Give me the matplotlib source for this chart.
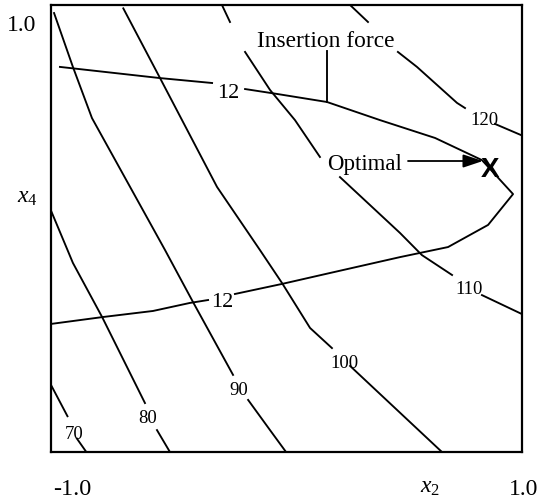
import numpy as np
import matplotlib
matplotlib.use("Agg")
import matplotlib.pyplot as plt

nan = np.nan

# insertion force contours (x2, x4), nan = gap left for a label
force_levels = [70, 80, 90, 100, 110, 120]
f70_x2 = [-1.00, -0.93, nan, -0.89, -0.85]
f70_x4 = [-0.70, -0.84, nan, -0.94, -1.00]
f80_x2 = [-1.00, -0.93, -0.907, -0.783, -0.601, nan, -0.550, -0.495]
f80_x4 = [0.08, -0.096, -0.154, -0.396, -0.781, nan, -0.902, -1.00]
f90_x2 = [-0.987, -0.907, -0.826, -0.516, -0.397, -0.227, nan, -0.163, -0.070, -0.002]
f90_x4 = [0.964, 0.723, 0.494, -0.096, -0.329, -0.655, nan, -0.767, -0.902, -1.00]
f100_x2 = [-0.693, -0.537, -0.295, -0.113, -0.019, 0.100, 0.193, nan, 0.270, 0.660]
f100_x4 = [0.985, 0.673, 0.186, -0.096, -0.244, -0.445, -0.535, nan, -0.615, -1.00]
f110_x2 = [-0.274, -0.240, nan, -0.176, -0.070, 0.036, 0.142, nan,
           0.227, 0.482, 0.575, 0.703, nan, 0.830, 1.00]
f110_x4 = [1.00, 0.924, nan, 0.790, 0.620, 0.485, 0.320, nan,
           0.230, -0.020, -0.119, -0.208, nan, -0.298, -0.383]
f120_x2 = [0.270, 0.346, nan, 0.473, 0.554, 0.724, 0.758, nan, 0.885, 0.996]
f120_x4 = [1.00, 0.924, nan, 0.790, 0.723, 0.562, 0.539, nan, 0.468, 0.418]

# label positions for the force levels
force_lab_x2 = [-0.902, -0.588, -0.202, 0.248, 0.775, 0.839]
force_lab_x4 = [-0.911, -0.843, -0.718, -0.597, -0.266, 0.494]

# the "12" contour
c12_x2 = [-0.962, -0.537, -0.316, nan, -0.176, -0.040, 0.172, 0.397, 0.631, 0.830,
          0.962, 0.856, 0.686, 0.482, 0.185, -0.019, -0.219, nan,
          -0.333, -0.410, -0.567, -0.779, -1.00]
c12_x4 = [0.723, 0.673, 0.651, nan, 0.624, 0.602, 0.566, 0.485, 0.405, 0.306,
          0.154, 0.016, -0.083, -0.128, -0.199, -0.248, -0.293, nan,
          -0.320, -0.333, -0.369, -0.396, -0.427]
c12_lab_x2 = [-0.248, -0.274]
c12_lab_x4 = [0.617, -0.320]

optimum = (0.864, 0.232)

plt.rcParams['font.family'] = ['Liberation Serif', 'DejaVu Serif']
plt.rcParams['mathtext.fontset'] = 'custom'
plt.rcParams['mathtext.rm'] = 'Liberation Serif'
plt.rcParams['mathtext.it'] = 'Liberation Serif:italic'

fig = plt.figure(figsize=(5.41, 5.01), dpi=100)
ax = fig.add_axes([51 / 541, 1 - 452 / 501, 471 / 541, 447 / 501])
ax.set_xlim(-1, 1)
ax.set_ylim(-1, 1)
ax.set_xticks([])
ax.set_yticks([])
for s in ax.spines.values():
    s.set_linewidth(1.6)

lw = 1.35
force_x = [f70_x2, f80_x2, f90_x2, f100_x2, f110_x2, f120_x2]
force_y = [f70_x4, f80_x4, f90_x4, f100_x4, f110_x4, f120_x4]
for xs, ys in zip(force_x, force_y):
    ax.plot(xs, ys, color='k', lw=lw)
for lev, lx, ly in zip(force_levels, force_lab_x2, force_lab_x4):
    ax.text(lx, ly, str(lev), fontsize=13.5, ha='center', va='center_baseline')

ax.plot(c12_x2, c12_x4, color='k', lw=lw)
for lx, ly in zip(c12_lab_x2, c12_lab_x4):
    ax.text(lx, ly, '12', fontsize=16, ha='center', va='center_baseline')

# annotations
ax.text(0.168, 0.812, 'Insertion force', fontsize=16.8, ha='center', va='baseline')
ax.plot([0.172, 0.172], [0.794, 0.566], color='k', lw=lw)
ax.text(0.331, 0.262, 'Optimal', fontsize=16.5, ha='center', va='baseline')
ax.annotate('', xy=(0.834, 0.302), xytext=(0.516, 0.302),
            arrowprops=dict(arrowstyle='-|>,head_length=0.6,head_width=0.2',
                            mutation_scale=20, color='k', lw=1.3,
                            shrinkA=0, shrinkB=0))
ax.text(optimum[0], optimum[1], 'X', fontsize=20, fontweight='bold',
        family='Liberation Sans', ha='center', va='baseline')

# axis end labels
ax.text(-0.0626, 0.942, '1.0', transform=ax.transAxes, fontsize=17,
        ha='center', va='baseline')
ax.text(-0.050, 0.557, '$x_4$', transform=ax.transAxes, fontsize=17,
        ha='center', va='baseline')
ax.text(0.0456, -0.096, '-1.0', transform=ax.transAxes, fontsize=17.5,
        ha='center', va='baseline')
ax.text(0.805, -0.092, '$x_2$', transform=ax.transAxes, fontsize=17,
        ha='center', va='baseline')
ax.text(1.003, -0.096, '1.0', transform=ax.transAxes, fontsize=17,
        ha='center', va='baseline')

fig.savefig('out.png', dpi=100)
